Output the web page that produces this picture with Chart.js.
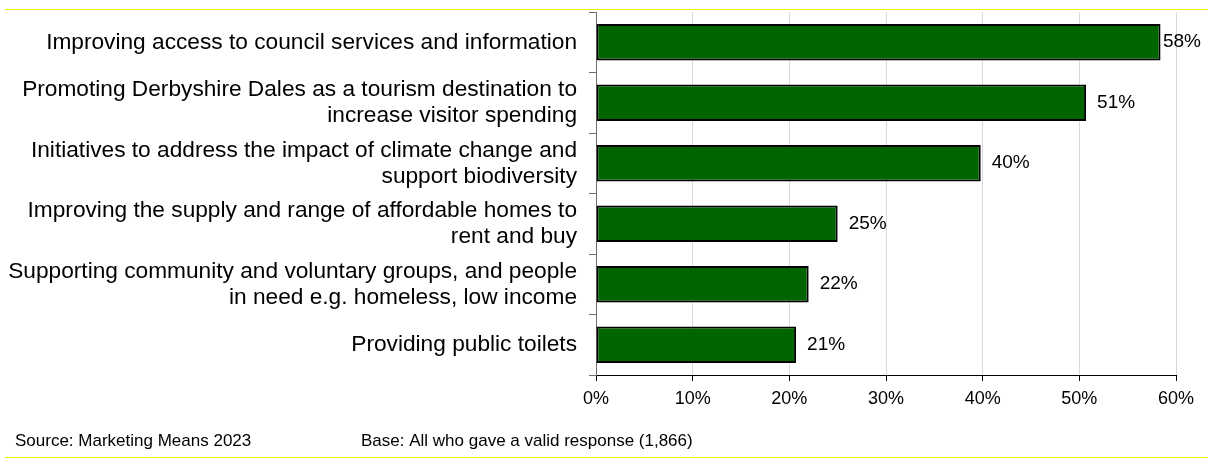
<!DOCTYPE html>
<html>
<head>
<meta charset="utf-8">
<script src="https://cdn.jsdelivr.net/npm/chart.js@4"></script>
<style>
  html, body { margin: 0; padding: 0; background: #fff; }
  canvas { display: block; }
</style>
</head>
<body>
<canvas id="c" width="1208" height="459"></canvas>
<script>
const categories = [
  "Improving access to council services and information",
  ["Promoting Derbyshire Dales as a tourism destination to", "increase visitor spending"],
  ["Initiatives to address the impact of climate change and", "support biodiversity"],
  ["Improving the supply and range of affordable homes to", "rent and buy"],
  ["Supporting community and voluntary groups, and people", "in need e.g. homeless, low income"],
  "Providing public toilets"
];
const values = [58.4, 50.7, 39.8, 25.0, 22.0, 20.7];
const xTicks = [0, 10, 20, 30, 40, 50, 60];
const sourceText = "Source: Marketing Means 2023";
const baseText = "Base: All who gave a valid response (1,866)";

const FONT = "'Liberation Sans', Arial, sans-serif";

const decor = {
  id: 'decor',
  beforeDraw(chart) {
    const ctx = chart.ctx;
    ctx.save();
    ctx.fillStyle = '#fff';
    ctx.fillRect(0, 0, chart.width, chart.height);
    ctx.strokeStyle = '#f0f000';
    ctx.lineWidth = 1;
    ctx.beginPath();
    ctx.moveTo(5, 9.5); ctx.lineTo(chart.width, 9.5);
    ctx.moveTo(5, 457.5); ctx.lineTo(chart.width, 457.5);
    ctx.stroke();
    ctx.restore();
  },
  afterDraw(chart) {
    const ctx = chart.ctx;
    ctx.save();
    ctx.fillStyle = '#000';
    ctx.font = "17px " + FONT;
    ctx.textBaseline = 'middle';
    ctx.textAlign = 'left';
    ctx.fillText(sourceText, 15, 441);
    ctx.fillText(baseText, 361, 441);
    // data labels
    const meta = chart.getDatasetMeta(0);
    ctx.font = "19px " + FONT;
    meta.data.forEach((bar, i) => {
      const txt = Math.round(values[i]) + '%';
      const w = ctx.measureText(txt).width;
      const x = Math.min(bar.x + 11, 1201 - w);
      ctx.fillText(txt, x, bar.y);
    });
    ctx.restore();
  }
};

new Chart(document.getElementById('c'), {
  type: 'bar',
  data: {
    labels: categories,
    datasets: [{
      data: values,
      backgroundColor: '#006400',
      borderColor: '#000',
      borderWidth: 2,
      borderSkipped: false,
      barPercentage: 0.6,
      categoryPercentage: 1.0
    }]
  },
  options: {
    indexAxis: 'y',
    responsive: false,
    animation: false,
    devicePixelRatio: 1,
    layout: { padding: { left: 0, right: 32, top: 12, bottom: 0 } },
    plugins: { legend: { display: false }, tooltip: { enabled: false } },
    scales: {
      x: {
        min: 0, max: 60,
        afterFit(s) { s.height = 84; s.paddingLeft = 0; s.paddingRight = 0; },
        afterBuildTicks(s) { s.ticks = xTicks.map(v => ({ value: v })); },
        ticks: {
          callback: v => v + '%',
          font: { family: FONT, size: 18 },
          color: '#000',
          padding: 7,
          maxRotation: 0
        },
        grid: { color: '#d9d9d9', tickColor: '#000', tickLength: 6, lineWidth: 1 },
        border: { color: '#000', width: 1 }
      },
      y: {
        afterFit(s) { s.width = 596; s.paddingTop = 0; s.paddingBottom = 0; },
        ticks: {
          font: { family: FONT, size: 22.7, lineHeight: 1.145 },
          color: '#000',
          padding: 12,
          autoSkip: false
        },
        grid: { drawOnChartArea: false, offset: true, tickLength: 7, color: '#6e6e6e', tickColor: '#6e6e6e' },
        border: { color: '#6e6e6e', width: 1 }
      }
    }
  },
  plugins: [decor]
});
</script>
</body>
</html>
